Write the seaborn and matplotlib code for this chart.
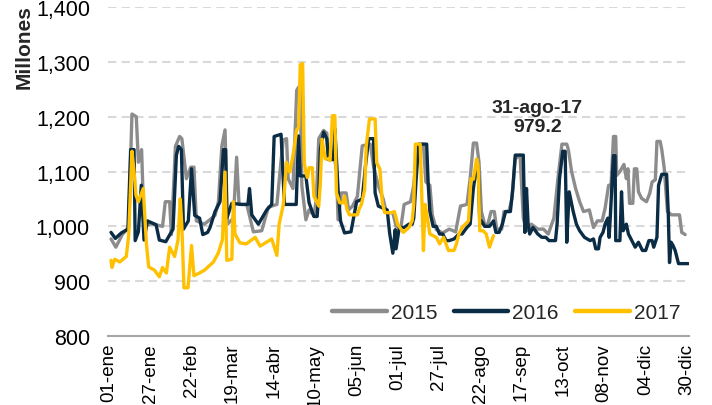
import numpy as np
import pandas as pd
import matplotlib
matplotlib.use("Agg")
import matplotlib.pyplot as plt
import seaborn as sns

# Daily series (reading positions, millions)
days_2015 = [1, 4, 8, 12, 14, 16.7, 18, 20, 21.5, 26, 33, 34.7, 37.4, 38.5, 41, 43.6, 45, 47.8, 50.5, 52.5,
             54, 59, 65.6, 67.7, 69.8, 71.8, 73.3, 77, 79, 80.5, 85.3, 89.4, 94.6, 98.7, 104, 106.6, 108, 110,
             111, 114, 116.3, 117.5, 118.5, 119.5, 122, 124, 127, 128.5, 130, 133, 135, 136, 140, 141, 142,
             144, 147, 148.5, 151, 154, 157, 162, 164, 167, 170, 172, 176, 178, 181, 183, 187, 189, 191, 195,
             196.5, 199, 200.5, 203, 207, 211, 215, 218, 222, 224, 226, 228, 229.5, 231, 233, 235, 237, 239,
             240.5, 243.6, 245, 248, 250, 252, 255, 257, 259, 262, 266, 269.5, 272.5, 276, 278.5, 281, 284,
             285, 287, 289.5, 292, 294.4, 298, 300.6, 303, 306, 307.8, 310, 311.5, 313, 314.4, 315, 317,
             319.5, 321, 322, 323, 325, 326, 327.5, 328.5, 330.5, 333.5, 335.5, 337, 339, 340, 342, 343,
             344.5, 346.5, 349, 354, 355.4, 357.5]
vals_2015 = [977, 962, 985, 998, 1205, 1200, 1117, 1140, 1000, 1005, 1000, 1045, 1045, 985, 1146, 1164, 1160,
             1087, 1108, 1108, 1010, 1004, 1020, 1045, 1146, 1176, 1004, 1015, 1126, 1040, 1040, 990, 992,
             1035, 1040, 1120, 1158, 1160, 1087, 1069, 1248, 1254, 1250, 1074, 1012, 1030, 1020, 1049, 1160,
             1175, 1170, 1122, 1122, 1100, 1012, 1061, 1061, 1030, 1037, 1055, 1147, 1150, 1110, 1074, 1050,
             1025, 1025, 1000, 998, 1040, 1045, 1075, 1146, 1150, 1081, 1075, 1021, 994, 988, 995, 990, 1037,
             1040, 1087, 1152, 1152, 1117, 1027, 1004, 1004, 1027, 1027, 995, 995, 1027, 1027, 1051, 1123,
             1130, 1015, 992, 1004, 995, 995, 986, 1015, 1087, 1150, 1150, 1140, 1100, 1069, 1045, 1027,
             1030, 998, 1010, 1010, 1033, 1075, 1075, 1164, 1164, 1093, 1100, 1113, 1087, 1105, 1042, 1042,
             1105, 1105, 1063, 1051, 1045, 1060, 1081, 1085, 1155, 1155, 1140, 1107, 1027, 1021, 1021, 989, 985]

days_2016 = [1, 3.7, 7.4, 11.5, 13.2, 15.3, 16, 18, 19.8, 21.5, 23.6, 29, 31, 35, 39.5, 41.6, 43, 44.7, 46,
             49, 51, 53, 56, 58, 61, 62.5, 65.6, 68.7, 70.8, 72.2, 72.9, 76, 82.2, 86, 87, 88.4, 92.5, 97.7,
             100.8, 102.3, 106.6, 108.7, 113, 116, 117.4, 118.5, 122, 124, 127, 129, 130, 131, 133, 135, 136,
             139, 140, 142, 143.5, 146, 150, 153.5, 157, 159, 161, 164, 165, 167, 172.5, 174, 176, 177.5, 178,
             180, 183, 186, 188, 189, 190.5, 192, 197, 198, 199, 201, 203, 205, 207, 209, 211, 214, 217, 219,
             222, 224, 226, 228, 229, 230, 231, 233, 236, 238.5, 240, 242, 244, 246, 249, 250.5, 252, 257,
             258, 259, 260, 261, 263, 266, 268.5, 271, 273, 277, 278, 279.5, 281.5, 283, 284, 285.5, 288,
             290, 292, 295, 298.5, 300.6, 302, 303.7, 304.7, 306.5, 307.8, 309.5, 310.3, 311, 313, 314,
             314.4, 317, 318, 319, 321, 322.3, 324.4, 326.5, 328.5, 331, 333, 335, 337, 338, 340, 341, 343,
             346, 347, 347.8, 348.8, 350, 351.3, 353.4, 356, 359.5]
vals_2016 = [989, 978, 988, 995, 1140, 1140, 974, 990, 1075, 975, 1010, 1003, 975, 972, 995, 1130, 1146, 1140,
             995, 1010, 1105, 1020, 1015, 985, 989, 998, 1027, 1045, 1140, 1140, 1015, 1042, 1040, 1040, 1069,
             1021, 1004, 1030, 1040, 1164, 1168, 1040, 1040, 1040, 1165, 1092, 1092, 1043, 1018, 1018, 1061,
             1141, 1172, 1160, 1122, 1122, 1178, 1067, 1010, 988, 990, 1045, 1050, 1110, 1160, 1160, 1061,
             1037, 1030, 988, 951, 994, 959, 998, 998, 1004, 1004, 1015, 1087, 1150, 1150, 1075, 1027, 1000,
             1000, 986, 986, 974, 974, 977, 986, 986, 998, 1004, 1069, 1110, 1110, 1004, 1010, 1000, 1000,
             1010, 989, 989, 1004, 1027, 1027, 1069, 1130, 1130, 989, 1069, 1004, 986, 998, 986, 980, 980,
             974, 974, 1004, 1087, 1137, 1137, 971, 1063, 1027, 1004, 992, 980, 974, 977, 959, 959, 980, 989,
             1004, 1015, 980, 1015, 1129, 1129, 974, 974, 1063, 992, 1004, 986, 974, 962, 971, 956, 956, 974,
             974, 962, 980, 1075, 1095, 1095, 1027, 934, 971, 965, 956, 932, 932, 932]

days_2017 = [1, 1.6, 3.3, 6.4, 10.5, 12, 14, 15.3, 16.5, 18, 21, 23, 24.4, 28, 31, 33, 35.4, 37.4, 40.5, 42.6,
             44, 45, 46.3, 48.8, 51, 52.5, 56, 59, 64.6, 67.7, 70.2, 71.8, 72.9, 76, 77, 78, 81, 85, 90.5,
             93.6, 100.8, 104, 105.4, 108, 110, 112, 114, 116.3, 117.5, 118.5, 120, 121, 122, 123, 124, 126,
             127, 128, 130, 131, 132, 134, 136, 137, 138.5, 140, 141, 143, 145, 146, 147.5, 149, 154, 155,
             156.5, 158.5, 159.5, 161.5, 165, 166, 168, 169.5, 171, 175, 177, 179, 182.5, 186, 188, 189, 190,
             193, 195, 196, 197, 199, 203, 205, 207.5, 210.5, 214, 215.5, 217, 219, 221, 223, 224.5, 226, 228,
             229, 230, 232, 234, 236, 238.5]
vals_2017 = [938, 925, 940, 935, 945, 985, 1137, 1100, 1057, 1045, 1069, 968, 926, 920, 908, 925, 915, 962, 945,
             975, 1050, 1000, 888, 888, 965, 910, 915, 920, 935, 952, 976, 1099, 938, 940, 1045, 986, 970, 968,
             980, 964, 977, 947, 1004, 1040, 1117, 1099, 1129, 1176, 1180, 1295, 1297, 1116, 1098, 1089, 1107,
             1107, 1055, 1049, 1037, 1080, 1159, 1123, 1123, 1120, 1202, 1202, 1061, 1043, 1043, 1055, 1031,
             1021, 1021, 1031, 1040, 1067, 1147, 1196, 1196, 1116, 1104, 1043, 1025, 1025, 1027, 1004, 989, 998,
             1010, 1040, 1150, 1150, 956, 1040, 1024, 986, 980, 968, 980, 956, 956, 968, 986, 998, 1004, 1010,
             1087, 1086, 1123, 1110, 992, 992, 986, 962, 983]

years = ["2015", "2016", "2017"]
colors = ["#8C8C8D", "#0B2C45", "#FFC000"]

tick_days = [1, 27, 53, 79, 105, 131, 157, 183, 209, 235, 261, 287, 313, 339, 365]
tick_labels = ["01-ene", "27-ene", "22-feb", "19-mar", "14-abr", "10-may", "05-jun", "01-jul",
               "27-jul", "22-ago", "17-sep", "13-oct", "08-nov", "04-dic", "30-dic"]
y_ticks = [800, 900, 1000, 1100, 1200, 1300, 1400]


def to_doy(pos):
    # reading positions were taken on a slightly off grid; calibrate to day of year
    return 2.39 + 1.0145 * (np.asarray(pos) - 1)


frames = []
for yr, d, v in zip(years, [days_2015, days_2016, days_2017], [vals_2015, vals_2016, vals_2017]):
    frames.append(pd.DataFrame({"day": to_doy(d), "value": v, "year": yr}))
df = pd.concat(frames, ignore_index=True)

sns.set_theme(style="white")
plt.rcParams["font.family"] = ["Liberation Sans Narrow", "Liberation Sans", "DejaVu Sans"]

fig = plt.figure(figsize=(7.12, 4.06), dpi=100)
ax = fig.add_axes([0.1517, 0.170, 0.816, 0.810])

sns.lineplot(data=df, x="day", y="value", hue="year", hue_order=years,
             palette=dict(zip(years, colors)), linewidth=2.4, sort=False,
             estimator=None, ax=ax)

ax.set_xlim(0.5, 366.5)
ax.set_ylim(800, 1400)
ax.set_yticks(y_ticks)
ax.set_yticklabels([f"{t:,}" for t in y_ticks], fontsize=15.5)
ax.set_xticks(tick_days)
ax.set_xticklabels(tick_labels, rotation=90, fontsize=13.5)
ax.tick_params(axis="both", length=0, colors="black")
ax.tick_params(axis="y", pad=13)
ax.tick_params(axis="x", pad=5)

ax.yaxis.grid(True, color="#D9D9D9", linestyle=(0, (4, 2.5)), linewidth=1.5)
ax.set_axisbelow(True)
sns.despine(ax=ax, left=True)
ax.spines["bottom"].set_color("#A6A6A6")
ax.spines["bottom"].set_linewidth(1.5)

ax.set_xlabel("")
ax.set_ylabel("Millones", fontsize=15, fontweight="bold", loc="top")
ax.yaxis.set_label_coords(-0.128, 1.01)

ax.text(271, 1200, "31-ago-17\n979.2", ha="center", va="center",
        fontsize=14, fontweight="bold", linespacing=1.15)

leg = ax.legend(ncol=3, loc="center right", bbox_to_anchor=(0.985, 0.07),
                frameon=False, fontsize=15, handlelength=2.6,
                columnspacing=0.8, handletextpad=0.2,
                borderaxespad=0, borderpad=0)
for line in leg.get_lines():
    line.set_linewidth(3.2)

fig.savefig("out.png", dpi=100)
